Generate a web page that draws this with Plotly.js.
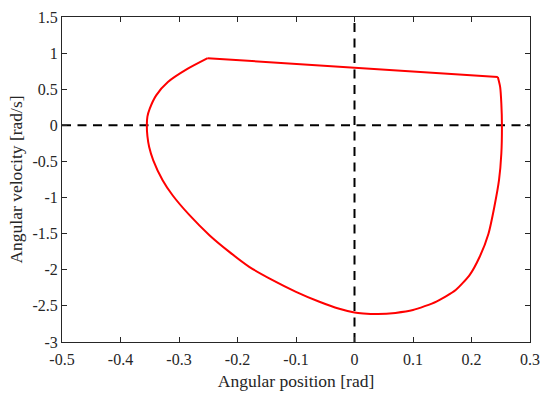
<!DOCTYPE html>
<html>
<head>
<meta charset="utf-8">
<script src="https://cdn.plot.ly/plotly-3.0.1.min.js"></script>
<style>html,body{margin:0;padding:0;background:#fff;}#chart{width:540px;height:393px;}</style>
</head>
<body>
<div id="chart"></div>
<script>
// Top straight segment (angular position [rad], angular velocity [rad/s])
var topX = [-0.251, 0.245];
var topY = [0.930, 0.668];

// Curved part of the trajectory, from top-right corner clockwise back to the top-left corner
var curveX = [0.245, 0.249, 0.251, 0.252, 0.251, 0.247, 0.239, 0.229, 0.214, 0.197, 0.173, 0.140, 0.100, 0.070, 0.040, 0.015, 0.000, -0.026, -0.060, -0.100, -0.140, -0.180, -0.214, -0.248, -0.282, -0.311, -0.328, -0.344, -0.351, -0.354, -0.355, -0.354, -0.350, -0.339, -0.319, -0.285, -0.251];
var curveY = [0.668, 0.530, 0.300, 0.000, -0.390, -0.760, -1.130, -1.500, -1.820, -2.070, -2.280, -2.440, -2.558, -2.597, -2.613, -2.605, -2.592, -2.540, -2.443, -2.305, -2.143, -1.959, -1.752, -1.521, -1.244, -0.968, -0.760, -0.484, -0.300, -0.150, 0.000, 0.120, 0.231, 0.415, 0.599, 0.784, 0.930];

// Dashed reference lines
var hLineX = [-0.5, 0.3];
var hLineY = [0, 0];
var vLineX = [0, 0];
var vLineY = [-3, 1.5];

var xTicks = [-0.5, -0.4, -0.3, -0.2, -0.1, 0, 0.1, 0.2, 0.3];
var xTickText = ['-0.5', '-0.4', '-0.3', '-0.2', '-0.1', '0', '0.1', '0.2', '0.3'];
var yTicks = [-3, -2.5, -2, -1.5, -1, -0.5, 0, 0.5, 1, 1.5];
var yTickText = ['-3', '-2.5', '-2', '-1.5', '-1', '-0.5', '0', '0.5', '1', '1.5'];

var red = '#ff0000';
var serif = 'Liberation Serif, Times New Roman, serif';
var traces = [
  {x: hLineX, y: hLineY, mode: 'lines', line: {color: '#000', width: 2, dash: '9px,6.5px'}, hoverinfo: 'skip'},
  {x: vLineX, y: vLineY, mode: 'lines', line: {color: '#000', width: 2, dash: '9px,6.5px'}, hoverinfo: 'skip'},
  {x: topX, y: topY, mode: 'lines', line: {color: red, width: 2}},
  {x: curveX, y: curveY, mode: 'lines', line: {color: red, width: 2, shape: 'spline', smoothing: 0.6}}
];

var axisCommon = {
  showgrid: false, zeroline: false, showline: true, mirror: 'ticks',
  linecolor: '#262626', linewidth: 1, ticks: 'inside', ticklen: 5, tickwidth: 1, tickcolor: '#262626',
  tickfont: {family: serif, size: 16, color: '#262626'},
  fixedrange: true
};

var layout = {
  width: 540, height: 393,
  margin: {l: 62, r: 10, t: 17, b: 51},
  paper_bgcolor: '#fff', plot_bgcolor: '#fff',
  showlegend: false,
  xaxis: Object.assign({}, axisCommon, {
    range: [-0.5, 0.3], tickvals: xTicks, ticktext: xTickText, ticklabelstandoff: 3,
    title: {text: 'Angular position [rad]', font: {family: serif, size: 17.5, color: '#262626'}, standoff: 7}
  }),
  yaxis: Object.assign({}, axisCommon, {
    range: [-3, 1.5], tickvals: yTicks, ticktext: yTickText,
    title: {text: 'Angular velocity [rad/s]', font: {family: serif, size: 17.5, color: '#262626'}, standoff: 5}
  })
};

Plotly.newPlot('chart', traces, layout, {displayModeBar: false, staticPlot: true});
</script>
</body>
</html>
